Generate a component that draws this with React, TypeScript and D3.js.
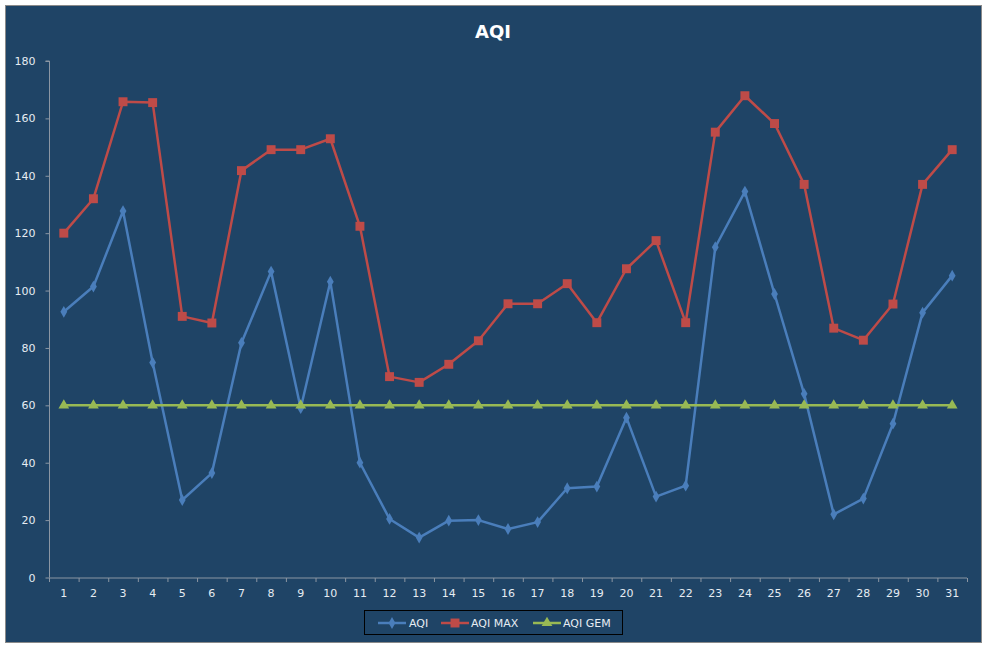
import { useEffect, useRef } from 'react';
import * as d3 from 'd3';

const days = Array.from({ length: 31 }, (_, i) => String(i + 1));
const aqi = [92.6, 101.4, 127.7, 74.9, 27, 36.4, 81.8, 106.6, 59, 103.1, 40, 20.4, 13.9, 19.8, 20, 16.9, 19.3, 31.1, 31.7, 55.7, 28.2, 32, 115.1, 134.5, 98.8, 64, 22, 27.5, 53.6, 92.3, 105.2];
const aqiMax = [120, 132, 165.8, 165.5, 91, 88.7, 141.8, 149.1, 149.1, 152.9, 122.4, 70, 68, 74.3, 82.5, 95.4, 95.4, 102.4, 88.8, 107.6, 117.4, 88.8, 155.2, 167.9, 158.2, 137, 86.9, 82.7, 95.3, 137, 149.1];
const aqiGem = Array.from({ length: 31 }, () => 60);
const yTicks = [0, 20, 40, 60, 80, 100, 120, 140, 160, 180];

const W = 987;
const H = 648;
const bg = '#1f4466';
const textColor = '#e6ecf2';
const axisColor = '#8b96a3';
const font = 'Tahoma, "DejaVu Sans", Verdana, sans-serif';

const series = [
  { name: 'AQI', values: aqi, color: '#4a7ebb', marker: 'diamond' },
  { name: 'AQI MAX', values: aqiMax, color: '#be4b48', marker: 'square' },
  { name: 'AQI GEM', values: aqiGem, color: '#98b954', marker: 'triangle' },
];

function markerPath(kind: string) {
  if (kind === 'diamond') return d3.symbol(d3.symbolDiamond, 40)()!;
  if (kind === 'square') return d3.symbol(d3.symbolSquare, 80)()!;
  return d3.symbol(d3.symbolTriangle, 50)()!;
}

export default function App() {
  const svgRef = useRef<SVGSVGElement>(null);

  useEffect(() => {
    if (!svgRef.current) return;
    const svg = d3.select(svgRef.current);
    svg.selectAll('*').remove();

    const margin = { left: 49, right: W - 967, top: 61, bottom: H - 577.5 };

    // chart area
    svg.append('rect')
      .attr('x', 5.5).attr('y', 5.5)
      .attr('width', 976).attr('height', 637)
      .attr('fill', bg)
      .attr('stroke', '#8a8a8a');

    svg.append('text')
      .attr('x', 493).attr('y', 38)
      .attr('text-anchor', 'middle')
      .attr('fill', '#ffffff')
      .attr('font-family', font)
      .attr('font-size', '18px')
      .attr('font-weight', '700')
      .text('AQI');

    const x = d3.scaleBand()
      .domain(days)
      .range([margin.left, W - margin.right]);

    const y = d3.scaleLinear()
      .domain([0, 180])
      .range([H - margin.bottom, margin.top]);

    const cx = (i: number) => x(days[i])! + x.bandwidth() / 2;

    // Y axis
    svg.append('g')
      .attr('transform', `translate(${margin.left + 0.5},0)`)
      .call(d3.axisLeft(y).tickValues(yTicks).tickSize(4).tickPadding(10))
      .call((ax) => ax.select('.domain').attr('stroke', axisColor).attr('d', `M-4,${y(180)}H0V${y(0)}`))
      .call((ax) => ax.selectAll('.tick line').attr('stroke', axisColor))
      .call((ax) => ax.selectAll('.tick text')
        .attr('fill', textColor)
        .attr('font-family', font)
        .attr('font-size', '11px'));

    // X axis with ticks between categories
    const xg = svg.append('g')
      .attr('transform', `translate(0,${y(0) + 0.5})`);
    xg.append('line')
      .attr('x1', margin.left).attr('x2', W - margin.right)
      .attr('stroke', axisColor);
    xg.selectAll('.xtick')
      .data(days.concat(['end']))
      .join('line')
      .attr('x1', (d, i) => (i < days.length ? x(d)! : W - margin.right) + 0.5)
      .attr('x2', (d, i) => (i < days.length ? x(d)! : W - margin.right) + 0.5)
      .attr('y1', 0).attr('y2', 4)
      .attr('stroke', axisColor);
    xg.selectAll('.xlabel')
      .data(days)
      .join('text')
      .attr('x', (_, i) => cx(i))
      .attr('y', 19)
      .attr('text-anchor', 'middle')
      .attr('fill', textColor)
      .attr('font-family', font)
      .attr('font-size', '11px')
      .text((d) => d);

    // lines + markers
    series.forEach((s) => {
      const line = d3.line<number>()
        .x((_, i) => cx(i))
        .y((d) => y(d));
      svg.append('path')
        .datum(s.values)
        .attr('d', line)
        .attr('fill', 'none')
        .attr('stroke', s.color)
        .attr('stroke-width', 2.5)
        .attr('stroke-linejoin', 'round');
      svg.append('g')
        .selectAll('path')
        .data(s.values)
        .join('path')
        .attr('d', markerPath(s.marker))
        .attr('transform', (d, i) => `translate(${cx(i)},${y(d)})`)
        .attr('fill', s.color);
    });

    // legend
    const lg = svg.append('g');
    lg.append('rect')
      .attr('x', 364.5).attr('y', 610.5)
      .attr('width', 258).attr('height', 24)
      .attr('fill', bg)
      .attr('stroke', '#000000');
    const legendX = [378, 441, 533];
    const textX = [409, 471, 563];
    series.forEach((s, i) => {
      const yy = 623;
      lg.append('line')
        .attr('x1', legendX[i]).attr('x2', legendX[i] + 28)
        .attr('y1', yy).attr('y2', yy)
        .attr('stroke', s.color)
        .attr('stroke-width', 2.5);
      lg.append('path')
        .attr('d', markerPath(s.marker))
        .attr('transform', `translate(${legendX[i] + 14},${yy})`)
        .attr('fill', s.color);
      lg.append('text')
        .attr('x', textX[i]).attr('y', yy + 4)
        .attr('fill', textColor)
        .attr('font-family', font)
        .attr('font-size', '11px')
        .text(s.name);
    });
  }, []);

  return (
    <svg
      ref={svgRef}
      width={W}
      height={H}
      style={{ position: 'absolute', left: 0, top: 0, background: '#ffffff' }}
    />
  );
}
